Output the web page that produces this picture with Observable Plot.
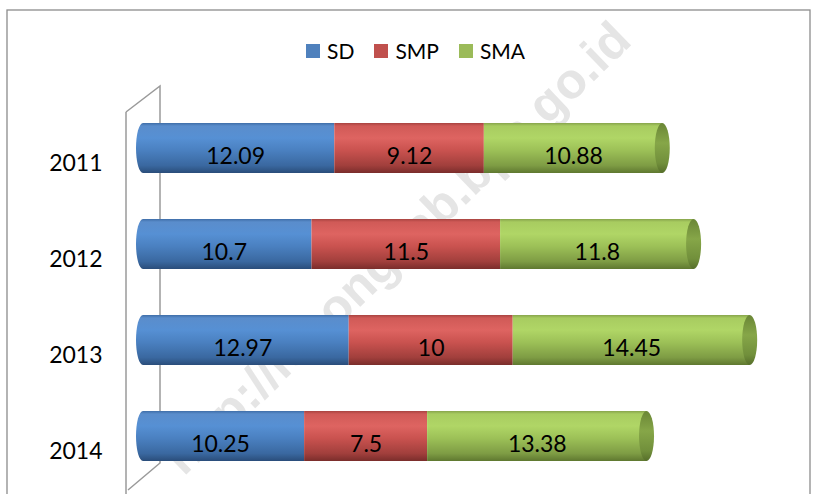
<!DOCTYPE html>
<html><head><meta charset="utf-8">
<script src="https://cdn.jsdelivr.net/npm/d3@7"></script>
<script src="https://cdn.jsdelivr.net/npm/@observablehq/plot@0.6"></script>
<style>
body{margin:0;background:#fff;}
#wrap{position:relative;width:817px;height:494px;font-family:Lato,sans-serif;overflow:hidden;}
#legend{position:absolute;left:306px;top:38px;display:flex;align-items:center;font-size:21px;color:#000;z-index:2;font-family:Lato,sans-serif;}
.item{display:flex;align-items:center;margin-right:20px}
.sw{width:14px;height:14px;margin-right:7px}
</style></head><body>
<div id="wrap"><div id="legend"></div></div>
<script>
const years = ["2011", "2012", "2013", "2014"];
const series = ["SD", "SMP", "SMA"];
const sd = [12.09, 10.7, 12.97, 10.25];
const smp = [9.12, 11.5, 10, 7.5];
const sma = [10.88, 11.8, 14.45, 13.38];
const colors = ["#4f81bd", "#c0504d", "#9bbb59"];
const watermark = "http://lebongkab.bps.go.id";

const valuesBySeries = {SD: sd, SMP: smp, SMA: sma};
const rows = [];
years.forEach((y, i) => {
  let acc = 0;
  series.forEach(s => {
    const v = valuesBySeries[s][i];
    rows.push({year: y, series: s, value: v, x1: acc, x2: acc + v});
    acc += v;
  });
});
const totals = years.map((y, i) => ({year: y, total: sd[i] + smp[i] + sma[i], zero: 0}));

const barOpts = {y: "year", x1: "x1", x2: "x2"};
const chart = Plot.plot({
  width: 817,
  height: 494,
  marginLeft: 136,
  marginRight: 25,
  marginTop: 100,
  marginBottom: 10,
  style: {fontFamily: "Lato, sans-serif", color: "#000", background: "transparent", overflow: "visible"},
  x: {domain: [0, 40], axis: null},
  y: {domain: years, paddingInner: 0.48, paddingOuter: 0.24, label: null, axis: null},
  marks: [
    // watermark sits behind the bars
    Plot.text([watermark], {frameAnchor: "middle", dx: -67, dy: -44, rotate: -44, fontSize: 50, fontWeight: "bold", fontFamily: "Liberation Sans, Arial, sans-serif", fill: "#e5e5e5"}),
    Plot.axisY({tickSize: 0, tickPadding: 34, dy: 15, fontSize: 23, label: null}),
    // left end of the cylinder
    Plot.barX(totals, {y: "year", x1: "zero", x2: "zero", insetLeft: 0, insetRight: -14, rx: 7, ry: 25, fill: "url(#g-SD)"}),
    Plot.barX(rows.filter(d => d.series === "SD"), {...barOpts, insetLeft: 7, fill: "url(#g-SD)"}),
    Plot.barX(rows.filter(d => d.series === "SMP"), {...barOpts, fill: "url(#g-SMP)"}),
    Plot.barX(rows.filter(d => d.series === "SMA"), {...barOpts, fill: "url(#g-SMA)"}),
    // right end cap
    Plot.barX(totals, {y: "year", x1: "total", x2: "total", insetLeft: -7.5, insetRight: -7.5, rx: 7.5, ry: 25, fill: "url(#g-cap)"}),
    Plot.text(rows, {x: d => (d.x1 + d.x2) / 2, y: "year", text: d => String(d.value), dy: 8, fontSize: 23, fill: "#000"})
  ]
});

const svg = d3.select(chart);
const defs = svg.insert("defs", ":first-child");
function grad(id, stops) {
  const g = defs.append("linearGradient").attr("id", id).attr("x1", 0).attr("y1", 0).attr("x2", 0).attr("y2", 1);
  stops.forEach(([o, c]) => g.append("stop").attr("offset", o).attr("stop-color", c));
}
grad("g-SD", [[0, "#3f6ea8"], [0.06, "#5a8dcc"], [0.3, "#5690d4"], [0.55, "#4a80c0"], [0.85, "#3a68a0"], [1, "#2a4d7a"]]);
grad("g-SMP", [[0, "#a84340"], [0.06, "#d05a57"], [0.3, "#de6461"], [0.55, "#c9524f"], [0.85, "#a13f3c"], [1, "#7a2d2b"]]);
grad("g-SMA", [[0, "#87a44c"], [0.06, "#a8cc60"], [0.3, "#b0d666"], [0.55, "#9cc057"], [0.85, "#7e9c44"], [1, "#5f7830"]]);
grad("g-cap", [[0, "#6a8636"], [0.4, "#86a648"], [0.8, "#718f3b"], [1, "#566e2a"]]);

// 3D wall and chart border (decoration derived from the scales)
const xs = chart.scale("x"), ys = chart.scale("y");
const x0 = xs.apply(0);
const yTop = ys.range[0], yBot = ys.range[1];
const wm = svg.select("defs").node().nextElementSibling;
const wall = svg.insert("g", () => wm.nextElementSibling).attr("fill", "none").attr("stroke", "#9a9a9a").attr("stroke-width", 1.5);
wall.append("path").attr("d", `M${x0 - 10},${yTop + 12} L${x0 + 24},${yTop - 14} L${x0 + 24},${yBot - 21} L${x0 - 8},${yBot + 6}`);
wall.append("path").attr("d", `M${x0 - 10},${yTop + 12} L${x0 - 10},${yBot + 20}`);
svg.append("rect").attr("x", 7).attr("y", 10).attr("width", 803).attr("height", 500)
  .attr("fill", "none").attr("stroke", "#8c8c8c").attr("stroke-width", 1.3);

document.getElementById("wrap").appendChild(chart);
chart.style.position = "absolute";
chart.style.left = "0";
chart.style.top = "0";

const legend = document.getElementById("legend");
series.forEach((s, i) => {
  const it = document.createElement("div");
  it.className = "item";
  const sw = document.createElement("div");
  sw.className = "sw";
  sw.style.background = colors[i];
  const t = document.createElement("span");
  t.textContent = s;
  it.appendChild(sw); it.appendChild(t);
  legend.appendChild(it);
});
</script>
</body></html>
